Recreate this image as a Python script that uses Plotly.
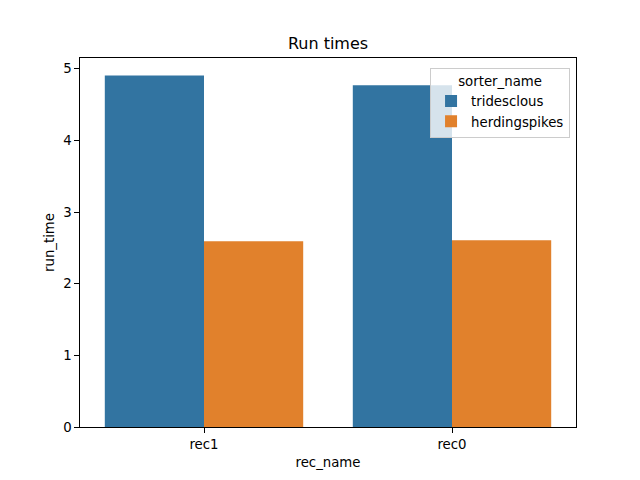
import plotly.graph_objects as go

categories = ["rec1", "rec0"]
sorters = ["tridesclous", "herdingspikes"]
run_times = {
    "tridesclous": [4.905, 4.77],
    "herdingspikes": [2.594, 2.607],
}
colors = {"tridesclous": "#3274a1", "herdingspikes": "#e1812c"}

fig = go.Figure()
for s in sorters:
    fig.add_trace(go.Bar(x=categories, y=run_times[s], name=s,
                         marker=dict(color=colors[s], line=dict(width=0))))

font = "DejaVu Sans"
ymax = max(max(v) for v in run_times.values()) * 1.05
fig.update_layout(
    width=640, height=480,
    margin=dict(l=80, r=64, t=57.6, b=52.8),
    paper_bgcolor="white", plot_bgcolor="white",
    font=dict(family=font, size=13.3, color="black"),
    barmode="group", bargap=0.2, bargroupgap=0,
    title=dict(text="Run times", x=0.5, xref="paper", xanchor="center",
               y=1 - 48.5/480, yanchor="bottom", yref="container",
               font=dict(size=16, family=font, color="black")),
    showlegend=True,
    legend=dict(title=dict(text="sorter_name", side="top center", font=dict(size=13.3)),
                x=0.988, xanchor="right", y=0.974, yanchor="top",
                bgcolor="rgba(255,255,255,0.8)", bordercolor="#cccccc", borderwidth=1,
                font=dict(size=13.3), tracegroupgap=0),
    xaxis=dict(type="category", range=[-0.5, 1.5], showline=True, linecolor="black",
               linewidth=1, mirror=True, ticks="outside", ticklen=4.7, tickcolor="black",
               showgrid=False, zeroline=False,
               title=dict(text="rec_name", standoff=7, font=dict(size=13.3))),
    yaxis=dict(range=[0, ymax], showline=True, linecolor="black", linewidth=1, mirror=True,
               ticks="outside", ticklen=4.7, tickcolor="black", showgrid=False, zeroline=False,
               tickvals=[0, 1, 2, 3, 4, 5],
               title=dict(text="run_time", standoff=5, font=dict(size=13.3))),
)

fig.write_html("out.html")
